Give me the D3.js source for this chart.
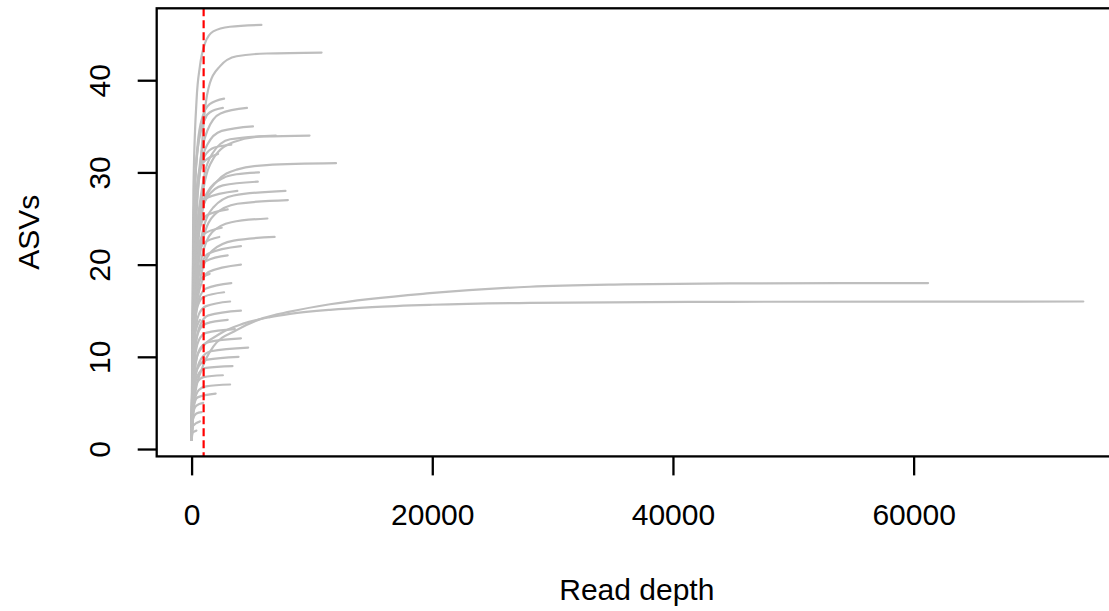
<!DOCTYPE html>
<html>
<head>
<meta charset="utf-8">
<script src="https://cdn.jsdelivr.net/npm/d3@7"></script>
<style>
  body { margin: 0; background: #fff; }
  svg { display: block; font-family: "Liberation Sans", Arial, sans-serif; }
</style>
</head>
<body>
<svg id="rareSvg" width="1109" height="611"></svg>
<script>
// rarefaction curves, one list of [reads, ASVs] per sample
var rareCurves = [
    [[1,1],[150,28],[415,37.9],[690,41.5],[1110,44],[1800,45.3],[3180,45.8],[5800,46]],
    [[1,1],[300,22],[830,32.4],[1110,36.8],[1520,39.7],[2350,41.5],[3740,42.6],[6230,42.9],[10800,43]],
    [[1,1],[200,26],[500,33],[900,36],[1500,37.4],[2700,38]],
    [[1,1],[200,26],[500,32.5],[900,35.2],[1500,36.5],[2600,37]],
    [[1,1],[250,24],[700,31],[1300,34.5],[2400,36.4],[4600,37]],
    [[1,1],[150,24],[500,32.5],[1200,36]],
    [[1,1],[250,23],[700,30],[1300,33],[2500,34.5],[5100,35]],
    [[1,1],[300,20],[900,27.5],[1800,31.5],[3500,33.3],[6000,33.9],[9800,34]],
    [[1,1],[300,21],[900,28.5],[1700,32],[3200,33.6],[7000,34]],
    [[1,1],[200,23],[600,29.5],[1100,31.8],[1900,32.7],[3300,33]],
    [[1,1],[200,24],[500,29],[900,31],[2200,32]],
    [[1,1],[300,18],[1110,27],[2080,29],[3740,30.3],[6230,30.8],[12000,31]],
    [[1,1],[250,19],[700,25.5],[1250,27.7],[2630,29.4],[3740,29.8],[5600,30]],
    [[1,1],[250,19],[700,25],[1300,27.3],[2600,28.6],[5500,29]],
    [[1,1],[300,17],[900,23.5],[1800,26.2],[3500,27.5],[7800,28]],
    [[1,1],[200,20],[600,25.5],[1200,27.2],[3800,28]],
    [[1,1],[300,16],[900,22.5],[1900,25.4],[3800,26.6],[8000,27]],
    [[1,1],[200,18],[600,23.5],[1200,25.3],[3000,26]],
    [[1,1],[150,17],[400,23],[900,26]],
    [[1,1],[300,15],[800,20.5],[1700,23.5],[3300,24.6],[6300,25]],
    [[1,1],[200,17],[500,21.5],[1000,23.3],[2500,24]],
    [[1,1],[300,14],[800,19],[1700,21.5],[3500,22.6],[6900,23]],
    [[1,1],[200,16.5],[500,20.8],[1000,22.3],[2300,23]],
    [[1,1],[250,15],[700,19.5],[1400,21.2],[4100,22]],
    [[1,1],[200,15],[600,19],[1200,20.4],[3000,21]],
    [[1,1],[250,13.5],[700,17.5],[1400,19.2],[4100,20]],
    [[1,1],[150,14],[400,17.3],[800,18.5],[1500,19]],
    [[1,1],[200,12.5],[600,16.2],[1200,17.4],[3300,18]],
    [[1,1],[300,6],[830,8.6],[1800,11.1],[3740,12.9],[5950,14.2],[8170,14.9],[11500,15.7],[19800,16.9],[28100,17.6],[36000,17.85],[44750,17.97],[61200,18]],
    [[1,1],[200,12.5],[500,15.5],[1000,16.5],[2700,17]],
    [[1,1],[200,11.5],[600,14.6],[1200,15.5],[3200,16]],
    [[1,1],[150,7],[550,10.4],[2350,12.5],[4290,13.6],[6510,14.3],[8170,14.65],[11500,15.1],[15000,15.4],[20000,15.65],[28100,15.85],[44750,15.97],[74100,16]],
    [[1,1],[250,10.5],[700,13.4],[1400,14.5],[4100,15]],
    [[1,1],[200,10],[600,12.8],[1200,13.6],[3000,14]],
    [[1,1],[100,9],[300,12.5],[700,14]],
    [[1,1],[200,9],[600,11.8],[1200,12.6],[3600,13]],
    [[1,1],[250,8.5],[700,10.9],[1400,11.6],[4100,12]],
    [[1,1],[250,7.5],[800,9.8],[1600,10.6],[4700,11]],
    [[1,1],[200,7],[600,9],[1300,9.7],[3900,10]],
    [[1,1],[200,6.5],[600,8.2],[1200,8.8],[3400,9]],
    [[1,1],[150,5.5],[500,7.3],[1000,7.8],[2600,8]],
    [[1,1],[200,5],[600,6.4],[1200,6.8],[3200,7]],
    [[1,1],[150,4.5],[500,5.6],[2000,6]],
    [[1,1],[100,3.8],[400,4.7],[960,5]],
    [[1,1],[100,3.2],[400,3.85],[830,4]],
    [[1,1],[100,2.5],[700,3]],
    [[1,1],[100,1.8],[400,2]]
];
var xTicks = [0, 20000, 40000, 60000];
var yTicks = [0, 10, 20, 30, 40];
var cutoffDepth = 1000;
var xLabel = "Read depth";
var yLabel = "ASVs";

var svg = d3.select("#rareSvg");
var plot = { left: 156.7, right: 1117, top: 8.3, bottom: 456.4 };

var xScale = d3.scaleLinear().domain([-2900, 76900]).range([plot.left, plot.right]);
var yScale = d3.scaleLinear().domain([-0.8, 47.8]).range([plot.bottom, plot.top]);

svg.append("rect").attr("width", 1109).attr("height", 611).attr("fill", "#fff");

// curves
var rareLine = d3.line()
    .x(function (d) { return xScale(d[0]); })
    .y(function (d) { return yScale(d[1]); })
    .curve(d3.curveMonotoneX);

svg.append("g").selectAll("path").data(rareCurves).enter()
    .append("path")
    .attr("d", rareLine)
    .attr("fill", "none")
    .attr("stroke", "#bebebe")
    .attr("stroke-width", 2.2)
    .attr("stroke-linecap", "round")
    .attr("stroke-linejoin", "round");

// depth cutoff
svg.append("line")
    .attr("x1", xScale(cutoffDepth)).attr("x2", xScale(cutoffDepth))
    .attr("y1", plot.top).attr("y2", plot.bottom)
    .attr("stroke", "#ff0000")
    .attr("stroke-width", 2.2)
    .attr("stroke-dasharray", "8,4");

// axes
var x_axis = d3.axisBottom(xScale).tickValues(xTicks).tickSize(19).tickFormat(d3.format("d"));
var y_axis = d3.axisLeft(yScale).tickValues(yTicks).tickSize(19).tickFormat(d3.format("d"));

var gx = svg.append("g")
    .attr("transform", "translate(0," + plot.bottom + ")")
    .call(x_axis);
gx.select(".domain").remove();
gx.selectAll(".tick line").attr("stroke", "#000").attr("stroke-width", 2.3);
gx.selectAll(".tick text")
    .attr("y", 68.6).attr("dy", null)
    .attr("fill", "#000")
    .style("font-size", "30px")
    .style("font-family", "'Liberation Sans', Arial, sans-serif");

var gy = svg.append("g")
    .attr("transform", "translate(" + plot.left + ",0)")
    .call(y_axis);
gy.select(".domain").remove();
gy.selectAll(".tick line").attr("stroke", "#000").attr("stroke-width", 2.3);
gy.selectAll(".tick text")
    .attr("x", null).attr("dy", null)
    .attr("text-anchor", "middle")
    .attr("transform", "translate(-46.7,0) rotate(-90)")
    .attr("fill", "#000")
    .style("font-size", "30px")
    .style("font-family", "'Liberation Sans', Arial, sans-serif");

// box
svg.append("rect")
    .attr("x", plot.left).attr("y", plot.top)
    .attr("width", plot.right - plot.left)
    .attr("height", plot.bottom - plot.top)
    .attr("fill", "none")
    .attr("stroke", "#000")
    .attr("stroke-width", 2.3);

// titles
svg.append("text")
    .attr("x", (plot.left + plot.right) / 2).attr("y", 600)
    .attr("text-anchor", "middle")
    .style("font-size", "30px")
    .text(xLabel);

svg.append("text")
    .attr("transform", "translate(39," + (plot.top + plot.bottom) / 2 + ") rotate(-90)")
    .attr("text-anchor", "middle")
    .style("font-size", "30px")
    .text(yLabel);
</script>
</body>
</html>
